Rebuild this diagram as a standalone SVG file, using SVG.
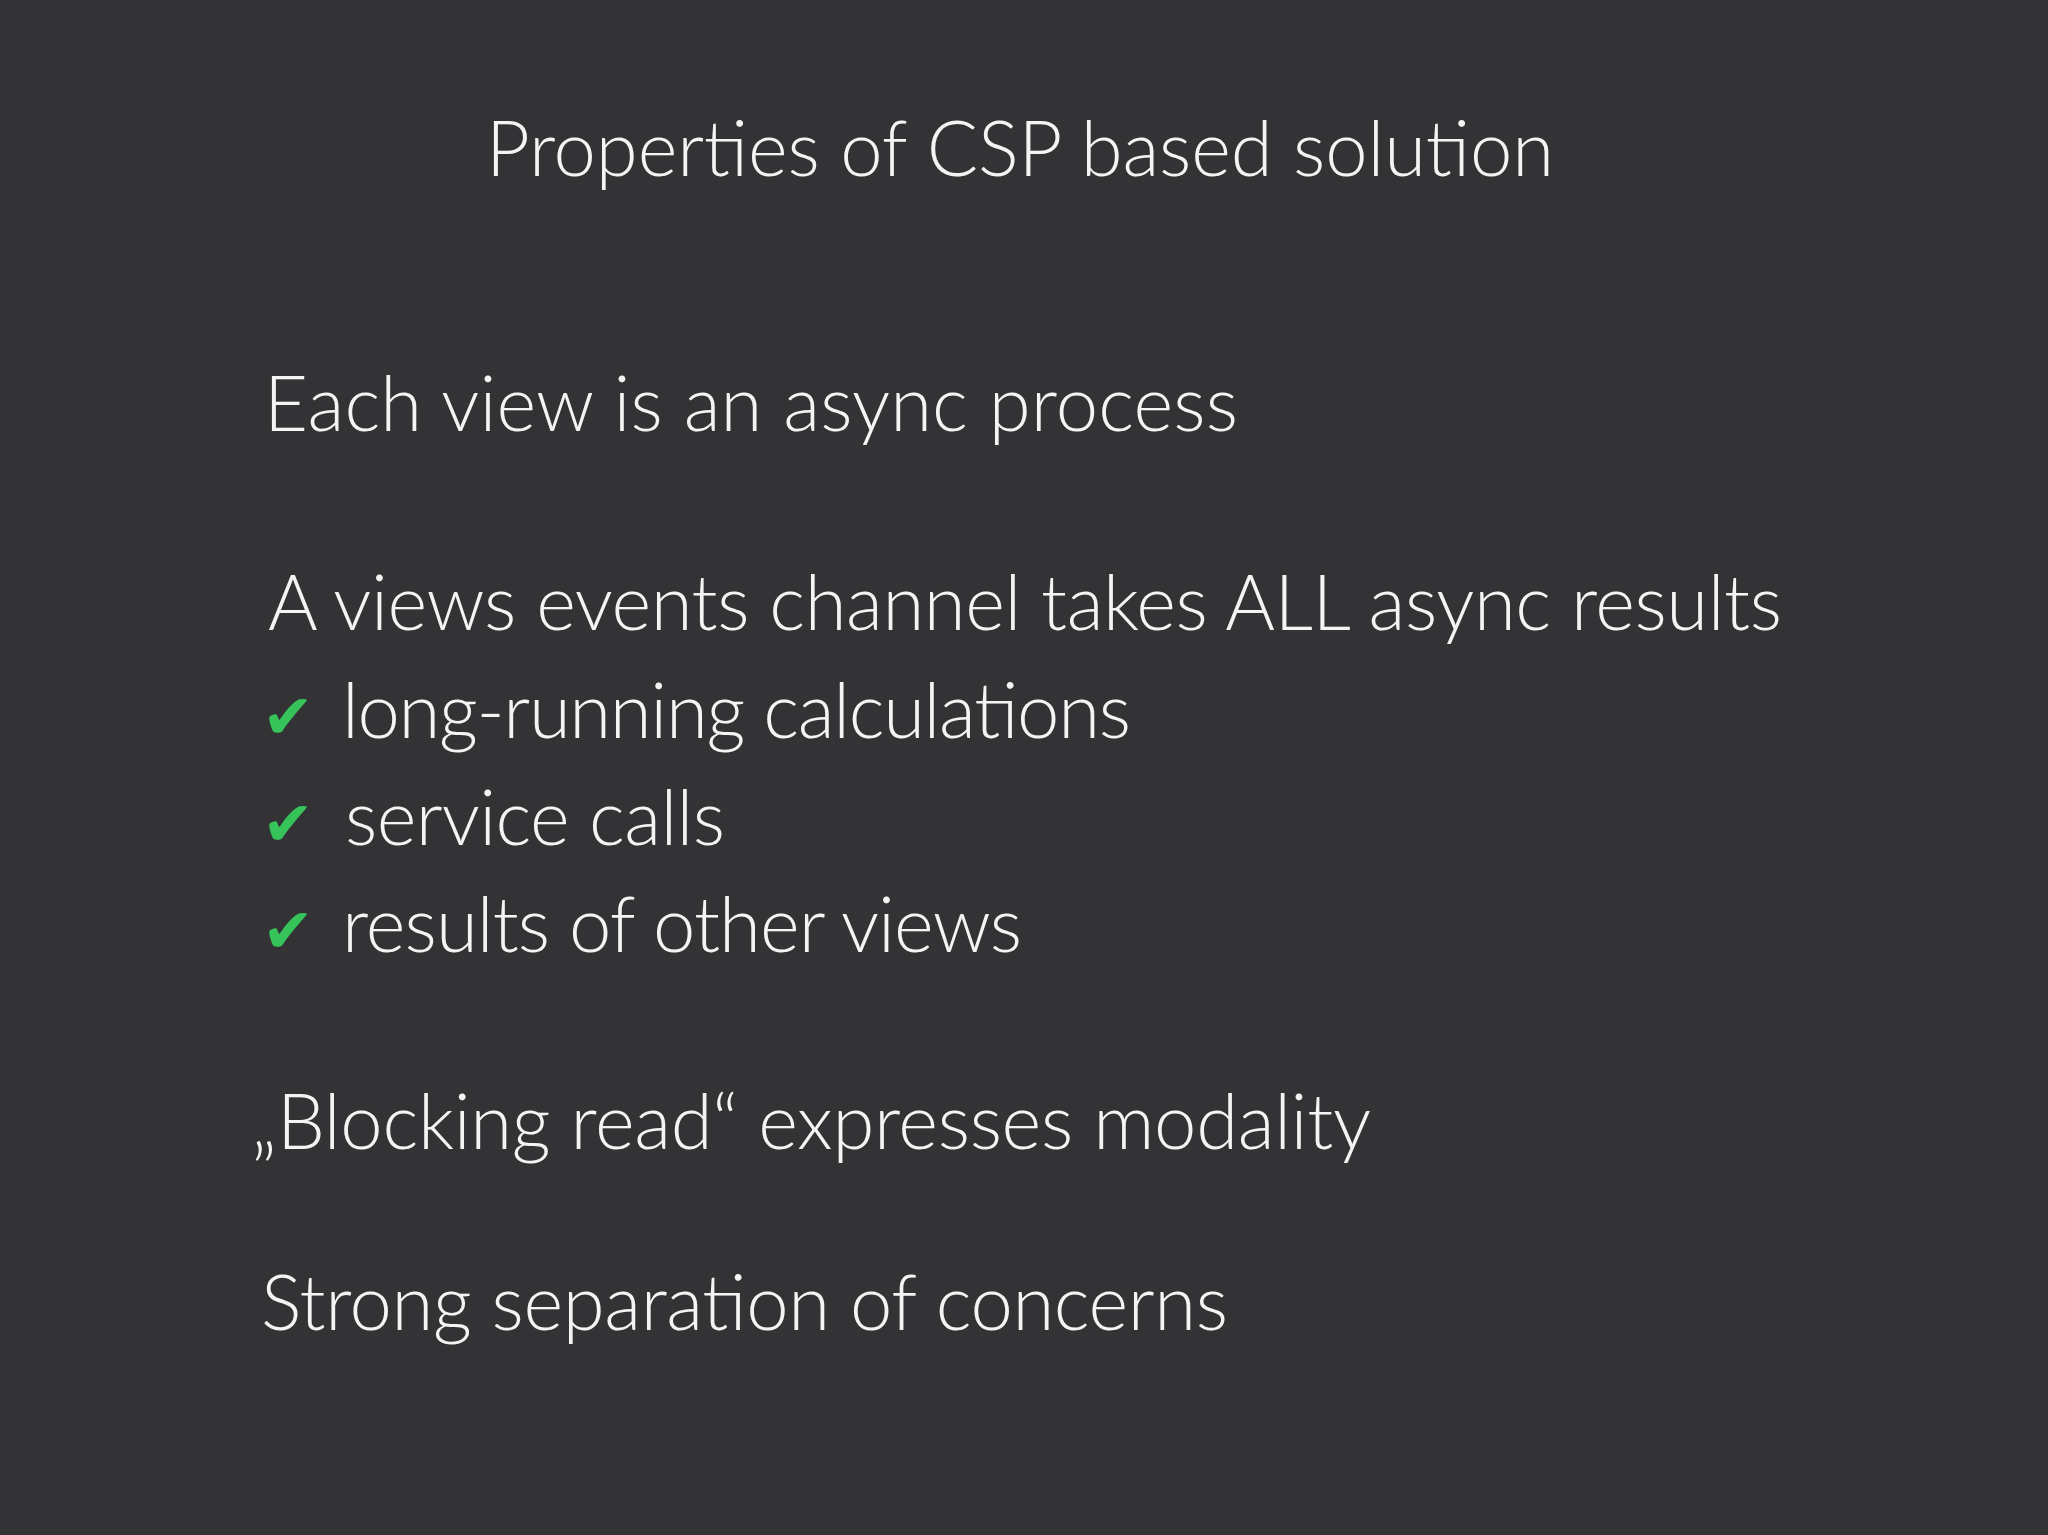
<svg xmlns="http://www.w3.org/2000/svg" width="2048" height="1535" viewBox="0 0 2048 1535">
<style>
.t{font-family:Lato,"Open Sans",sans-serif;font-weight:300;fill:#f4f4f4;font-size:76px}
.c{font-family:"DejaVu Sans",sans-serif;fill:#35c35a;font-size:62px;font-weight:bold}
</style>
<rect width="2048" height="1535" fill="#333234"/>
<g id="title"><text class="t" x="486" y="176" textLength="1068" lengthAdjust="spacing">Properties of CSP based solution</text></g>
<g id="p1"><text class="t" x="264" y="431" textLength="974" lengthAdjust="spacing">Each view is an async process</text></g>
<g id="p2"><text class="t" x="268" y="630" textLength="1514" lengthAdjust="spacing">A views events channel takes ALL async results</text></g>
<g id="b1"><text class="c" x="262" y="738">✔</text><text class="t" x="342" y="738" textLength="789" lengthAdjust="spacing">long-running calculations</text></g>
<g id="b2"><text class="c" x="262" y="845">✔</text><text class="t" x="345" y="845" textLength="380" lengthAdjust="spacing">service calls</text></g>
<g id="b3"><text class="c" x="262" y="952">✔</text><text class="t" x="342" y="952" textLength="680" lengthAdjust="spacing">results of other views</text></g>
<g id="p3"><text class="t" x="251" y="1149" textLength="1120" lengthAdjust="spacing">„Blocking read“ expresses modality</text></g>
<g id="p4"><text class="t" x="261" y="1330" textLength="967" lengthAdjust="spacing">Strong separation of concerns</text></g>
</svg>
